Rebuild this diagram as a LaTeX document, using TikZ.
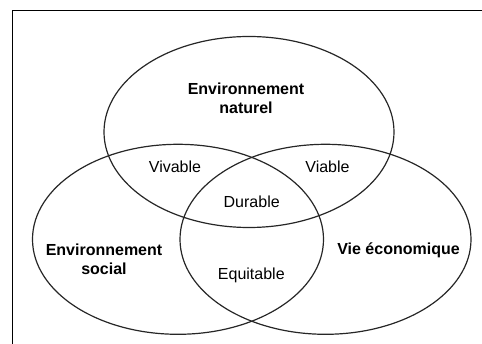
\documentclass[tikz,border=0pt]{standalone}
\usepackage{fontspec}
\setmainfont{Liberation Sans}
\begin{document}
\begin{tikzpicture}[x=1pt,y=-1pt,
  ring/.style={draw=black!85, line width=1.2pt},
  frameline/.style={draw=black, line width=1.4pt},
  title/.style={font=\fontsize{16}{19}\selectfont\bfseries, align=center, inner sep=0pt},
  zone/.style={font=\fontsize{16}{19}\selectfont, align=center, inner sep=0pt}]
  \useasboundingbox (0,0) rectangle (482,344);
  % open frame: left and top edges
  \coordinate (fbl) at (12.5,344);
  \coordinate (ftl) at (12.5,10.5);
  \coordinate (ftr) at (482,10.5);
  \draw[frameline] (fbl) -- (ftl) -- (ftr);
  % the three circles of sustainable development
  \draw[ring] (249,132) ellipse [x radius=145pt, y radius=95.5pt];
  \draw[ring] (178,239.3) ellipse [x radius=145.5pt, y radius=95pt];
  \draw[ring] (325.5,239.3) ellipse [x radius=145.5pt, y radius=95pt];
  % labels
  \node[title] (nat) at (246,98) {Environnement\\naturel};
  \node[title] (soc) at (104,259) {Environnement\\social};
  \node[title] (eco) at (398.5,250) {Vie économique};
  \node[zone] (viv) at (175,166.7) {Vivable};
  \node[zone] (via) at (327.5,166.7) {Viable};
  \node[zone] (dur) at (251.7,201.7) {Durable};
  \node[zone] (equ) at (251.3,275) {Equitable};
\end{tikzpicture}
\end{document}
